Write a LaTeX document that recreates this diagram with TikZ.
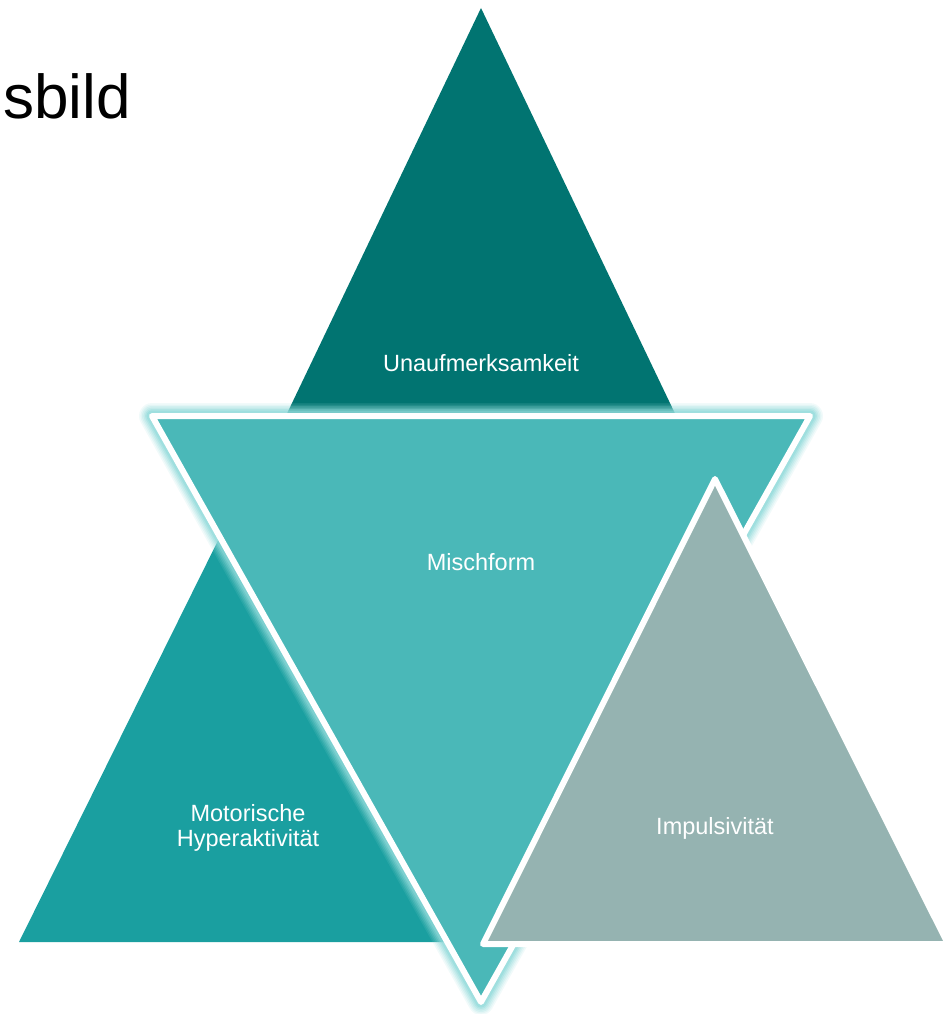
\documentclass[tikz,border=0pt]{standalone}
\usepackage{fontspec}
\setmainfont{Liberation Sans}
\definecolor{inattn}{HTML}{017471}
\definecolor{hyper}{HTML}{1A9FA0}
\definecolor{mixed}{HTML}{4AB8B8}
\definecolor{impuls}{HTML}{95B3B1}
\definecolor{halo}{HTML}{8FD9D9}
\tikzset{
  label/.style={text=white, font=\fontsize{23.5}{25}\selectfont, align=center, inner sep=0pt},
  edge/.style={draw=white, line width=6pt, line join=round},
}
\begin{document}
\begin{tikzpicture}[x=1pt,y=-1pt]
\useasboundingbox (0,0) rectangle (949,1014);
% title fragment
\node[anchor=base east, inner sep=0pt, font=\fontsize{62}{70}\selectfont] (title) at (131,118) {sbild};
% Unaufmerksamkeit (top)
\fill[inattn] (481,8) -- (702,470) -- (260,470) -- cycle;
% Motorische Hyperaktivitaet (bottom left)
\fill[hyper] (249,478) -- (479,942) -- (19,942) -- cycle;
% soft halo behind the centre triangle
\foreach \w/\o in {26/0.12,23/0.15,20/0.2,17/0.25,14/0.35,11/0.5} {
  \draw[halo, line width=\w pt, line join=round, opacity=\o] (152,416) -- (810,416) -- (481,1002) -- cycle;
}
% Mischform (centre, inverted)
\filldraw[fill=mixed, edge] (152,416) -- (810,416) -- (481,1002) -- cycle;
% Impulsivitaet (bottom right)
\filldraw[fill=impuls, edge] (715,479) -- (948,944) -- (483,944) -- cycle;
% labels
\node[label] (un) at (481,363) {Unaufmerksamkeit};
\node[label] (mi) at (481,562) {Mischform};
\node[label] (mo) at (248,828) {Motorische\\Hyperaktivität};
\node[label] (im) at (715,828) {Impulsivität};
\end{tikzpicture}
\end{document}
